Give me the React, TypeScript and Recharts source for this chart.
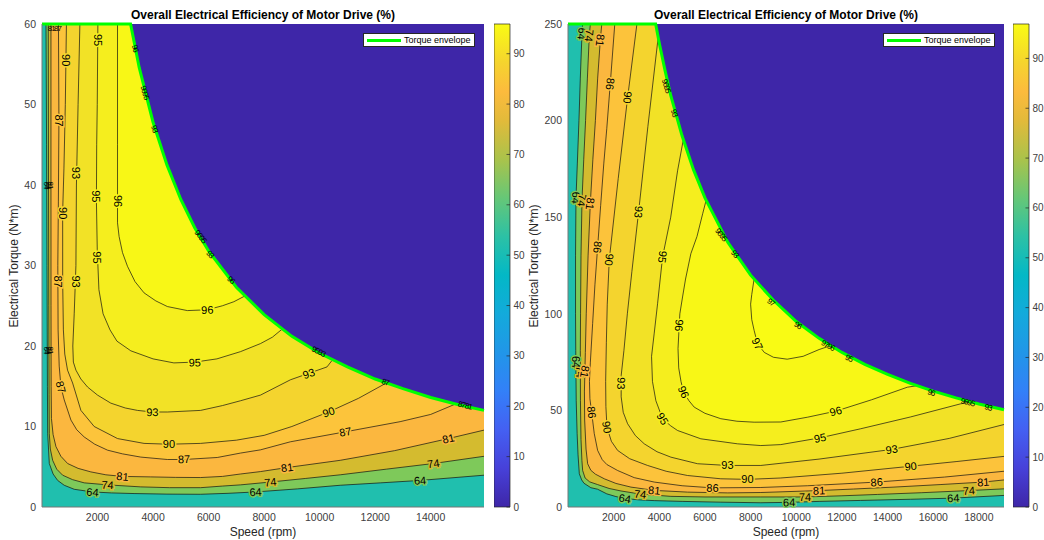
import {
  ComposedChart,
  BarChart,
  Area,
  Line,
  Scatter,
  Bar,
  XAxis,
  YAxis,
  CartesianGrid,
  Legend,
} from "recharts";

type Pt = [number, number];
type Lab = [number, number, string, number];

// ---------- left map: 20 kW drive (speed rpm, torque N*m) ----------
const L_SPEED_TICKS = [2000, 4000, 6000, 8000, 10000, 12000, 14000];
const L_TORQUE_TICKS = [0, 10, 20, 30, 40, 50, 60];
const L_LEVELS = [64, 74, 81, 87, 90, 93, 95, 96];

const L_ENVELOPE: Pt[] = [
  [0, 60], [3190, 60], [3500, 54.6], [4000, 47.8], [4500, 42.5], [5000, 38.2],
  [5500, 34.7], [6000, 31.8], [7000, 27.3], [8000, 23.9], [9000, 21.2],
  [10000, 19.1], [11000, 17.4], [12000, 15.9], [13000, 14.7], [14000, 13.6],
  [15000, 12.7], [15920, 12.0],
];

const L_C64: Pt[] = [
  [144, 60], [165, 45], [180, 30], [195, 15], [205, 9.1], [263, 5.4], [400, 4.1],
  [564, 3.3], [800, 2.7], [1160, 2.2], [1820, 1.87], [2500, 1.75], [3317, 1.67],
  [4500, 1.6], [5713, 1.58], [6700, 1.7], [7689, 1.87], [9200, 2.25], [10743, 2.7],
  [12200, 3.0], [13617, 3.3], [15920, 3.95],
];
const L_C74: Pt[] = [
  [226, 60], [235, 40], [245, 25], [255, 14], [263, 9.1], [300, 7.2], [384, 5.8],
  [530, 4.7], [744, 3.95], [1100, 3.4], [1520, 3.0], [2360, 2.75], [3557, 2.5],
  [4600, 2.4], [5713, 2.4], [6500, 2.6], [7151, 2.75], [8228, 3.1], [9500, 3.55],
  [10743, 4.0], [12400, 4.7], [14096, 5.4], [15920, 6.3],
];
const L_C81: Pt[] = [
  [323, 60], [323, 40], [325, 25], [330, 15], [340, 11], [400, 9.0], [503, 7.5],
  [680, 6.3], [923, 5.4], [1300, 4.8], [1760, 4.36], [2300, 4.0], [2900, 3.8],
  [3916, 3.74], [4800, 3.68], [5713, 3.66], [6500, 3.8], [7151, 4.1], [7869, 4.4],
  [8828, 4.9], [10743, 5.8], [12700, 7.0], [14635, 8.5], [15920, 9.55],
];
const L_C87: Pt[] = [
  [593, 60], [610, 48], [590, 38], [570, 30], [580, 22], [620, 17.5], [683, 14.9],
  [801, 13.3], [1042, 10.8], [1250, 9.6], [1520, 8.7], [1900, 7.8], [2360, 7.06],
  [2900, 6.6], [3557, 6.2], [4516, 5.9], [5114, 5.9], [6313, 6.15], [7151, 6.7],
  [7869, 7.1], [8947, 8.1], [10923, 9.34], [12899, 10.6], [14000, 11.5], [14900, 12.8],
];
const L_C90: Pt[] = [
  [880, 60], [840, 50], [790, 42], [744, 36.6], [745, 28], [770, 22], [820, 19],
  [920, 17], [1103, 15.4], [1401, 12.0], [1880, 10.0], [2720, 8.5], [3676, 7.9],
  [4574, 7.8], [5713, 7.9], [7000, 8.3], [8000, 8.9], [9000, 10.0], [10323, 11.8],
  [11400, 13.5], [12400, 15.4],
];
const L_C93: Pt[] = [
  [1365, 60], [1300, 50], [1240, 40], [1222, 30], [1160, 24], [1110, 20], [1130, 18],
  [1222, 17.0], [1400, 15.9], [1642, 14.9], [2000, 13.9], [2479, 12.9], [3000, 12.3],
  [3438, 12.0], [3977, 11.8], [4516, 11.8], [5713, 12.0], [6500, 12.6], [7151, 13.2],
  [7869, 13.9], [8947, 15.8], [9605, 16.6], [10265, 17.4], [10445, 18.2],
];
const L_C95: Pt[] = [
  [2012, 60], [1990, 50], [1970, 45], [1960, 38], [1990, 32], [2050, 27], [2200, 24],
  [2450, 22], [2700, 20.6], [3200, 19.4], [4000, 18.4], [4750, 17.9], [5500, 18.0],
  [6300, 18.4], [7150, 19.3], [7870, 20.3], [8300, 21.1], [8650, 22.1],
];
const L_C96: Pt[] = [
  [2720, 60], [2720, 45], [2720, 35.3], [2777, 33.6], [2900, 31.6], [3079, 29.9],
  [3350, 28.0], [3676, 26.6], [4100, 25.6], [4516, 24.9], [5235, 24.4], [5954, 24.5],
  [6500, 25.0], [6910, 25.5], [7300, 26.2],
];

const L_LABELS: Lab[] = [
  [1820, 1.85, "64", 5], [2360, 2.75, "74", 4], [2900, 3.8, "81", 5],
  [5114, 5.95, "87", -1], [4574, 7.8, "90", 0], [3977, 11.8, "93", 1],
  [5500, 17.95, "95", -1], [5954, 24.5, "96", -2],
  [7689, 1.87, "64", -4], [8228, 3.1, "74", -6], [8828, 4.9, "81", -8],
  [13617, 3.3, "64", -4], [14096, 5.4, "74", -8], [14635, 8.5, "81", -13],
  [10923, 9.34, "87", -10], [10323, 11.8, "90", -18], [9605, 16.6, "93", -19],
  [608, 48, "87", 90], [575, 28, "87", 90], [683, 14.9, "87", 75],
  [855, 55.5, "90", 90], [744, 36.5, "90", 90],
  [1240, 41.5, "93", 90], [1222, 28, "93", 90],
  [2005, 58, "95", 90], [1962, 38.6, "95", 90], [1990, 31, "95", 90],
  [2720, 38, "96", 90],
];
// crowded labels where the levels pile up at the left edge and along the envelope
const L_EDGE_LABELS: Lab[] = [
  [150, 40, "64", 90], [230, 40, "74", 90], [320, 40, "81", 90],
  [150, 19.5, "64", 90], [230, 19.5, "74", 90], [320, 19.5, "81", 90],
  [560, 59.5, "87", 0], [330, 59.5, "81", 0],
  [3350, 57, "96", 75], [3700, 51.5, "9695", 74], [4050, 47, "93", 72],
  [5700, 33.6, "9695", 52], [6050, 31.4, "93", 50], [6800, 28.2, "96", 42],
  [9950, 19.3, "9593", 26], [12360, 15.5, "87", 20], [15230, 12.6, "8781", 15],
];

// ---------- right map: 100 kW drive ----------
const R_SPEED_TICKS = [2000, 4000, 6000, 8000, 10000, 12000, 14000, 16000, 18000];
const R_TORQUE_TICKS = [0, 50, 100, 150, 200, 250];
const R_LEVELS = [64, 74, 81, 86, 90, 93, 95, 96, 97];

const R_ENVELOPE: Pt[] = [
  [0, 250], [3840, 250], [4000, 240], [4250, 226], [4500, 213], [5000, 192],
  [5500, 174.5], [6000, 160], [7000, 137], [8000, 120], [9000, 107], [10000, 96],
  [11000, 87.3], [12000, 80], [13000, 73.8], [14000, 68.6], [15000, 64],
  [16000, 60], [17000, 56.5], [18000, 53.3], [19100, 50.3],
];

const R_C64: Pt[] = [
  [640, 250], [613, 245], [540, 222], [480, 200], [410, 178], [350, 160], [330, 130],
  [330, 100], [340, 81], [360, 55], [400, 38], [440, 27], [496, 17.2], [600, 14],
  [700, 12.3], [1000, 10], [1298, 9.2], [1700, 6.8], [2100, 5.4], [2494, 4.4],
  [3100, 3.7], [3777, 3.3], [5000, 2.9], [6695, 2.5], [8446, 2.2], [9685, 2.4],
  [11000, 2.9], [12822, 3.4], [15000, 4.0], [16877, 4.6], [19100, 6.0],
];
const R_C74: Pt[] = [
  [980, 250], [934, 244], [850, 222], [770, 200], [690, 180], [613, 158.7], [570, 130],
  [550, 100], [540, 81], [545, 55], [570, 35], [610, 24], [642, 18.9], [750, 15],
  [950, 13], [1298, 11.6], [1800, 9.6], [2319, 8.3], [3165, 6.7], [4507, 5.5],
  [6000, 5.2], [8446, 5.2], [10385, 5.2], [12000, 5.8], [13551, 6.5], [15500, 7.4],
  [17562, 8.5], [19100, 9.4],
];
const R_C81: Pt[] = [
  [1480, 250], [1415, 241.6], [1300, 222], [1200, 200], [1090, 180], [977, 157],
  [880, 130], [800, 100], [760, 80], [720, 60], [730, 45], [790, 30], [861, 22.4],
  [1000, 19], [1200, 17], [1590, 14.6], [2100, 12.2], [2757, 10.3], [3778, 8.6],
  [5237, 7.7], [7000, 7.3], [8446, 7.5], [10997, 8.5], [12500, 9.3], [14280, 10.3],
  [16300, 11.6], [18190, 12.9], [19100, 14.0],
];
const R_C86: Pt[] = [
  [2050, 250], [1851, 219], [1700, 196], [1570, 178], [1430, 156], [1298, 134.5],
  [1180, 115], [1080, 95], [980, 75], [940, 65], [960, 56], [1036, 49], [1150, 38],
  [1298, 29.3], [1500, 24.5], [1700, 22], [2173, 18.9], [2900, 15.2], [3778, 12.9],
  [5000, 11.0], [6331, 9.9], [8446, 10.1], [10500, 11.0], [13522, 12.9],
  [16500, 15.5], [19100, 18.5],
];
const R_C90: Pt[] = [
  [3019, 250], [2612, 212], [2200, 170], [1808, 128], [1720, 105], [1680, 85],
  [1650, 65], [1660, 52], [1707, 41.3], [1900, 34], [2173, 29.3], [2700, 25],
  [3486, 21.5], [4300, 18.5], [5237, 16.3], [6695, 14.6], [7860, 14.3], [9300, 15.0],
  [12000, 17.5], [15010, 21.1], [17000, 23.5], [19100, 26.2],
];
const R_C93: Pt[] = [
  [3950, 243], [3500, 197], [3093, 152.7], [2800, 122], [2600, 100], [2450, 81],
  [2330, 68], [2330, 57], [2420, 49], [2611, 43.1], [2950, 37], [3340, 32.7],
  [3900, 28.6], [4507, 25.8], [5674, 22.4], [6987, 21.5], [8446, 21.5], [11000, 24.8],
  [14178, 29.8], [16700, 35.5], [19100, 42.7],
];
const R_C95: Pt[] = [
  [5050, 190], [4800, 174], [4500, 150], [4143, 129.4], [3924, 105.2], [3778, 90],
  [3660, 78], [3700, 65], [3850, 55], [4143, 45.7], [4500, 42], [4799, 39.6],
  [5820, 35.3], [7425, 32.7], [8446, 31.8], [9321, 32.3], [11042, 35.8],
  [12822, 40.5], [15000, 46.6], [17198, 53.4], [17650, 54.4],
];
const R_C96: Pt[] = [
  [6050, 158.7], [5900, 151.8], [5650, 140], [5382, 131.1], [5150, 118], [5018, 108.7],
  [4900, 100], [4872, 94], [4820, 82], [4850, 72], [4950, 65], [5062, 59.5],
  [5300, 55], [5528, 51.7], [6000, 48.5], [6695, 45.7], [7400, 44.4], [8154, 43.9],
  [9321, 44.0], [10500, 46.5], [11728, 49.6], [13300, 55.5], [14864, 62.0], [15300, 62.8],
];
const R_C97: Pt[] = [
  [8150, 117.8], [8050, 110], [8000, 105], [8050, 97], [8154, 91.4], [8301, 84.5],
  [8600, 80], [9000, 77.5], [9600, 76.5], [10300, 78], [11000, 81.5], [11500, 83.5],
];

const R_LABELS: Lab[] = [
  [2494, 4.4, "64", 8], [3165, 6.7, "74", 6], [3778, 8.6, "81", 5],
  [6331, 9.9, "86", 1], [7862, 14.3, "90", 0], [6987, 21.5, "93", 0],
  [9685, 2.4, "64", -1], [10385, 5.2, "74", -1], [10997, 8.5, "81", -2],
  [13522, 12.9, "86", -4], [15010, 21.1, "90", -6], [14178, 29.8, "93", -9],
  [11042, 35.8, "95", -11], [11728, 49.6, "96", -15],
  [16877, 4.6, "64", -2], [17562, 8.5, "74", -3], [18190, 12.9, "81", -4],
  [4143, 45.7, "95", 59], [5062, 59.5, "96", 67], [8301, 84.5, "97", 65],
  [1707, 41.3, "90", 81], [1036, 49, "86", 83],
  [613, 245, "64", 96], [934, 244, "74", 96], [1415, 241.6, "81", 96],
  [1851, 219, "86", 96], [2612, 212, "90", 96],
  [350, 160, "64", 94], [613, 158.7, "74", 96], [977, 157, "81", 96],
  [1298, 134.5, "86", 96], [1808, 128, "90", 96], [3093, 152.7, "93", 96],
  [4143, 129.4, "95", 99], [4872, 94, "96", 95],
  [330, 75, "64", 90], [545, 70, "74", 90], [740, 70, "81", 100], [2330, 64, "93", 92],
];
const R_EDGE_LABELS: Lab[] = [
  [4300, 218, "9695", 73], [4650, 204, "93", 72],
  [6700, 141, "9695", 52], [7300, 131, "93", 50],
  [8880, 106, "97", 38], [10060, 94, "96", 33], [11380, 83.6, "9796", 30],
  [12300, 77, "95", 26], [15900, 59.2, "96", 18], [17500, 54.2, "9695", 15],
  [18400, 51.5, "93", 14],
];

const CBAR_TICKS = [0, 10, 20, 30, 40, 50, 60, 70, 80, 90];

// ---------- styling ----------
const BLUE = "#3e26a8";
const BELOW_LOWEST = "#20bfae";
const BAND: Record<number, string> = {
  64: "#7ec95a",
  74: "#d4bb2f",
  81: "#fbb73f",
  86: "#fcc33b",
  87: "#fcc43b",
  90: "#f4d42e",
  93: "#f2e226",
  95: "#f5ee1e",
  96: "#f8f716",
  97: "#f9fb14",
};
const PARULA: [number, string][] = [
  [0, "#3e26a8"], [0.08, "#4741d9"], [0.16, "#4460f2"], [0.24, "#3380f8"],
  [0.32, "#2196e8"], [0.4, "#13aadb"], [0.48, "#03b8c6"], [0.56, "#2cc1a5"],
  [0.64, "#66c777"], [0.72, "#aac34b"], [0.8, "#e2ba3a"], [0.86, "#fcbb3d"],
  [0.92, "#f5d42e"], [1, "#f9fb14"],
];
const FONT = '"Liberation Sans", Arial, sans-serif';
const AXIS_TXT = "#404040";

type PanelProps = {
  left: number;
  width: number;
  yTitleX: number;
  xMax: number;
  yMax: number;
  xTicks: number[];
  yTicks: number[];
  levels: number[];
  contours: Pt[][];
  envelope: Pt[];
  labels: Lab[];
  edgeLabels: Lab[];
};

const toRows = (pts: Pt[]) => pts.map(([x, y]) => ({ x, y }));
const toLabelRows = (labs: Lab[]) => labs.map(([x, y, t, a]) => ({ x, y, t, a }));

function LegendBox() {
  return (
    <div
      style={{
        width: 110,
        height: 12,
        background: "#fff",
        border: "1px solid #262626",
        position: "relative",
        fontSize: 9,
        lineHeight: "12px",
        color: "#000",
      }}
    >
      <div style={{ position: "absolute", left: 3, top: 4.5, width: 34, height: 3, background: "#00ff00" }} />
      <span style={{ position: "absolute", left: 40 }}>Torque envelope</span>
    </div>
  );
}

function Panel(p: PanelProps) {
  const fillRows = (pts: Pt[]) => {
    const a = pts[0];
    const b = pts[pts.length - 1];
    return [{ x: 0, y: p.yMax }, { x: a[0], y: p.yMax }, ...toRows(pts), { x: b[0], y: p.yMax }];
  };
  const plotL = 42;
  const plotR = p.width - 6;
  const mid = (plotL + plotR) / 2;

  const drawLabel = (s: any) => {
    const { cx, cy, payload } = s;
    const halo = BAND[Number(payload.t)] || "#f9f914";
    return (
      <text
        x={cx}
        y={cy}
        transform={`rotate(${payload.a} ${cx} ${cy})`}
        textAnchor="middle"
        dominantBaseline="central"
        fontSize={11}
        fill="#000"
        stroke={halo}
        strokeWidth={3}
        paintOrder="stroke"
      >
        {payload.t}
      </text>
    );
  };
  const drawEdgeLabel = (s: any) => {
    const { cx, cy, payload } = s;
    return (
      <text
        x={cx}
        y={cy}
        transform={`rotate(${payload.a} ${cx} ${cy})`}
        textAnchor="middle"
        dominantBaseline="central"
        fontSize={8}
        fill="#000"
        letterSpacing={-1}
      >
        {payload.t}
      </text>
    );
  };

  return (
    <div style={{ position: "absolute", left: p.left, top: 0, width: p.width, height: 540 }}>
      <div
        style={{
          position: "absolute",
          left: mid,
          top: 15,
          transform: "translate(-50%, -50%)",
          fontWeight: "bold",
          fontSize: 12,
          whiteSpace: "nowrap",
          color: "#000",
        }}
      >
        Overall Electrical Efficiency of Motor Drive (%)
      </div>
      <div
        style={{
          position: "absolute",
          left: p.yTitleX,
          top: 265.5,
          transform: "translate(-50%, -50%) rotate(-90deg)",
          fontSize: 12,
          whiteSpace: "nowrap",
          color: "#262626",
        }}
      >
        Electrical Torque (N*m)
      </div>
      <div
        style={{
          position: "absolute",
          left: mid,
          top: 532,
          transform: "translate(-50%, -50%)",
          fontSize: 12,
          whiteSpace: "nowrap",
          color: "#262626",
        }}
      >
        Speed (rpm)
      </div>
      <ComposedChart width={p.width} height={540} margin={{ top: 24, right: 6, bottom: 13, left: 12 }}>
        <CartesianGrid horizontal={false} vertical={false} fill={BELOW_LOWEST} fillOpacity={1} />
        <XAxis
          type="number"
          dataKey="x"
          domain={[0, p.xMax]}
          ticks={p.xTicks}
          height={20}
          tickLine={false}
          tickSize={0}
          tickMargin={7}
          axisLine={{ stroke: "#777" }}
          tick={{ fontSize: 10.5, fill: AXIS_TXT }}
        />
        <YAxis
          type="number"
          dataKey="y"
          domain={[0, p.yMax]}
          ticks={p.yTicks}
          width={30}
          tickLine={false}
          tickSize={0}
          tickMargin={6}
          axisLine={{ stroke: "#777" }}
          tick={{ fontSize: 10.5, fill: AXIS_TXT }}
        />
        {p.contours.map((c, i) => (
          <Area
            key={"f" + i}
            data={fillRows(c)}
            dataKey="y"
            baseValue={p.yMax}
            type="linear"
            stroke="none"
            fill={BAND[p.levels[i]]}
            fillOpacity={1}
            activeDot={false}
            isAnimationActive={false}
          />
        ))}
        <Area
          data={toRows(p.envelope)}
          dataKey="y"
          baseValue={p.yMax}
          type="linear"
          stroke="none"
          fill={BLUE}
          fillOpacity={1}
          activeDot={false}
          isAnimationActive={false}
        />
        {p.contours.map((c, i) => (
          <Line
            key={"l" + i}
            data={toRows(c)}
            dataKey="y"
            type="linear"
            stroke="#111"
            strokeWidth={0.7}
            dot={false}
            activeDot={false}
            isAnimationActive={false}
          />
        ))}
        <Scatter data={toLabelRows(p.edgeLabels)} shape={drawEdgeLabel} isAnimationActive={false} />
        <Line
          data={toRows(p.envelope)}
          dataKey="y"
          name="Torque envelope"
          type="linear"
          stroke="#00ff00"
          strokeWidth={3}
          dot={false}
          activeDot={false}
          isAnimationActive={false}
        />
        <Scatter data={toLabelRows(p.labels)} shape={drawLabel} isAnimationActive={false} />
        <Legend
          layout="horizontal"
          verticalAlign="middle"
          align="center"
          content={() => <LegendBox />}
          wrapperStyle={{ left: plotR - 121, top: 33, width: 112, height: 14 }}
        />
      </ComposedChart>
    </div>
  );
}

function ColorBar({ left, id, cMax }: { left: number; id: string; cMax: number }) {
  const data = [{ k: "c", v: cMax }];
  const tick = (t: any) => (
    <g>
      <line x1={t.x - 3.5} x2={t.x} y1={t.y} y2={t.y} stroke="#262626" strokeWidth={0.7} />
      <text x={t.x + 3.5} y={t.y} dy="0.35em" fontSize={10} fill={AXIS_TXT}>
        {t.payload.value}
      </text>
    </g>
  );
  return (
    <div style={{ position: "absolute", left, top: 0 }}>
      <BarChart width={46} height={540} data={data} margin={{ top: 24, right: 0, bottom: 33, left: 0 }} barCategoryGap={0}>
        <defs>
          <linearGradient id={id} x1="0" y1="1" x2="0" y2="0">
            {PARULA.map(([o, c]) => (
              <stop key={o} offset={o} stopColor={c} />
            ))}
          </linearGradient>
        </defs>
        <XAxis dataKey="k" hide />
        <YAxis
          orientation="right"
          type="number"
          domain={[0, cMax]}
          ticks={CBAR_TICKS}
          width={30}
          axisLine={false}
          tickLine={false}
          tickSize={0}
          tickMargin={0}
          tick={tick}
        />
        <Bar dataKey="v" fill={`url(#${id})`} stroke="#262626" strokeWidth={0.7} isAnimationActive={false} />
      </BarChart>
    </div>
  );
}

export default function App() {
  return (
    <div
      style={{
        position: "absolute",
        left: 0,
        top: 0,
        width: 1044,
        height: 540,
        overflow: "hidden",
        background: "#fff",
        fontFamily: FONT,
      }}
    >
      <Panel
        left={0}
        width={490}
        yTitleX={13.5}
        xMax={15920}
        yMax={60}
        xTicks={L_SPEED_TICKS}
        yTicks={L_TORQUE_TICKS}
        levels={L_LEVELS}
        contours={[L_C64, L_C74, L_C81, L_C87, L_C90, L_C93, L_C95, L_C96]}
        envelope={L_ENVELOPE}
        labels={L_LABELS}
        edgeLabels={L_EDGE_LABELS}
      />
      <ColorBar left={494} id="parulaL" cMax={95.9} />
      <Panel
        left={526}
        width={484}
        yTitleX={7.5}
        xMax={19100}
        yMax={250}
        xTicks={R_SPEED_TICKS}
        yTicks={R_TORQUE_TICKS}
        levels={R_LEVELS}
        contours={[R_C64, R_C74, R_C81, R_C86, R_C90, R_C93, R_C95, R_C96, R_C97]}
        envelope={R_ENVELOPE}
        labels={R_LABELS}
        edgeLabels={R_EDGE_LABELS}
      />
      <ColorBar left={1013} id="parulaR" cMax={96.9} />
    </div>
  );
}
